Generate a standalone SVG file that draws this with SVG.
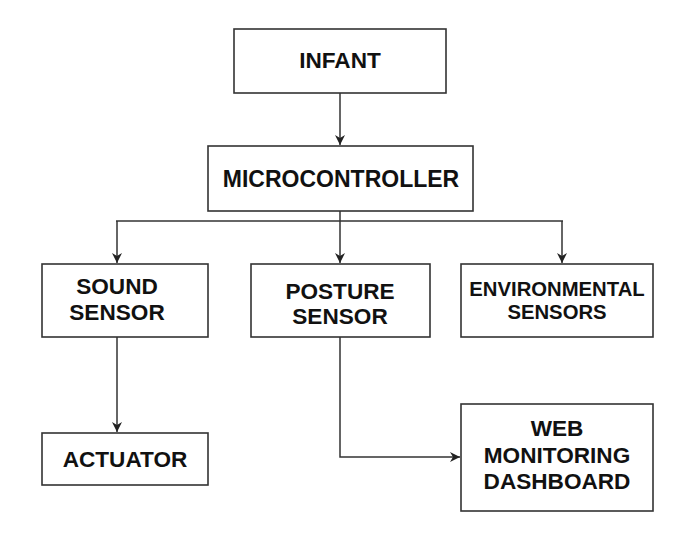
<svg xmlns="http://www.w3.org/2000/svg" width="690" height="537" viewBox="0 0 690 537">
<style>
.box{fill:#fff;stroke:#333;stroke-width:1.6}
.t{font-family:"Liberation Sans",Arial,sans-serif;font-weight:bold;font-size:22.6px;fill:#111;text-anchor:middle}
.c{fill:none;stroke:#333;stroke-width:1.5}
</style>
<defs>
<marker id="ah" markerWidth="10" markerHeight="10" refX="10" refY="5" orient="auto" markerUnits="userSpaceOnUse">
<path d="M0,0 L10,5 L0,10 L3,5 z" fill="#222"/>
</marker>
</defs>
<rect width="690" height="537" fill="#fff"/>
<g id="connectors">
<path class="c" d="M340,93 V145" marker-end="url(#ah)"/>
<path class="c" d="M116,221 H563"/>
<path class="c" d="M340,211 V263" marker-end="url(#ah)"/>
<path class="c" d="M117,221 V263" marker-end="url(#ah)"/>
<path class="c" d="M562,221 V263" marker-end="url(#ah)"/>
<path class="c" d="M117,337 V432" marker-end="url(#ah)"/>
<path class="c" d="M340,337 V457 H460" marker-end="url(#ah)"/>
</g>
<g id="infant"><rect class="box" x="234" y="29" width="212" height="64"/><text class="t" x="340" y="68">INFANT</text></g>
<g id="microcontroller"><rect class="box" x="208" y="146" width="265" height="65"/><text class="t" x="341" y="187" style="font-size:23px">MICROCONTROLLER</text></g>
<g id="sound"><rect class="box" x="42" y="264" width="166" height="73"/><text class="t" x="117" y="294">SOUND</text><text class="t" x="117" y="320">SENSOR</text></g>
<g id="posture"><rect class="box" x="251" y="264" width="179" height="73"/><text class="t" x="340" y="299">POSTURE</text><text class="t" x="340" y="324">SENSOR</text></g>
<g id="environmental"><rect class="box" x="461" y="264" width="192" height="73"/><text class="t" x="557" y="296" style="font-size:20.3px">ENVIRONMENTAL</text><text class="t" x="557" y="319" style="font-size:20.3px">SENSORS</text></g>
<g id="actuator"><rect class="box" x="42" y="433" width="166" height="52"/><text class="t" x="125" y="467">ACTUATOR</text></g>
<g id="web"><rect class="box" x="461" y="404" width="192" height="107"/><text class="t" x="557" y="436">WEB</text><text class="t" x="557" y="463">MONITORING</text><text class="t" x="557" y="489">DASHBOARD</text></g>
</svg>
